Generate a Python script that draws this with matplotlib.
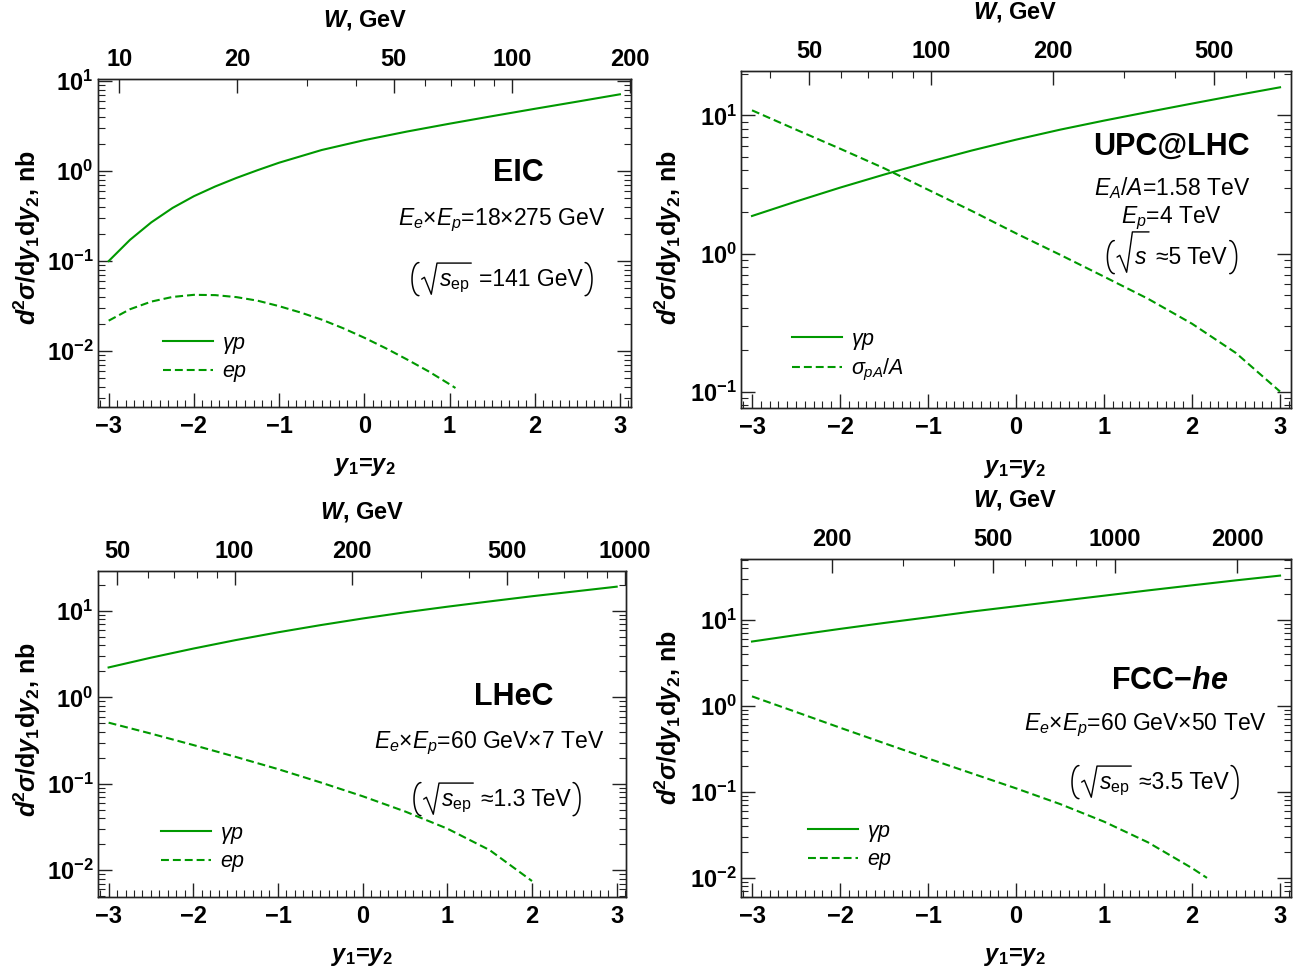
import numpy as np
import matplotlib
matplotlib.use('Agg')
import matplotlib.pyplot as plt
from matplotlib.ticker import FixedLocator, NullFormatter, MultipleLocator
from matplotlib.lines import Line2D

# ---------------- data ----------------
# EIC
eic_y_gp = [-3, -2.75, -2.5, -2.25, -2, -1.75, -1.5, -1.25, -1, -0.5, 0, 0.5, 1, 1.5, 2, 2.5, 3]
eic_gp = [0.100, 0.172, 0.269, 0.389, 0.525, 0.673, 0.838, 1.023, 1.236, 1.71, 2.2, 2.74, 3.35, 4.06, 4.9, 5.89, 7.1]
eic_y_ep = [-3, -2.75, -2.5, -2.25, -2, -1.75, -1.5, -1.25, -1, -0.75, -0.5, -0.25, 0, 0.25, 0.5, 0.75, 1, 1.07]
eic_ep = [0.0218, 0.0292, 0.0355, 0.0400, 0.0422, 0.0419, 0.0398, 0.0363, 0.0316, 0.0269, 0.0224, 0.0180,
          0.0141, 0.0108, 0.0081, 0.0060, 0.0043, 0.0039]
# UPC@LHC
upc_y = [-3, -2.5, -2, -1.5, -1, -0.5, 0, 0.5, 1, 1.5, 2, 2.5, 3]
upc_gp = [1.87, 2.38, 3.0, 3.73, 4.59, 5.58, 6.68, 7.89, 9.18, 10.6, 12.2, 14.0, 16.0]
upc_pA = [10.9, 7.9, 5.75, 4.15, 2.9, 2.03, 1.40, 0.98, 0.68, 0.47, 0.31, 0.19, 0.10]
# LHeC
lhec_y_gp = [-3, -2.5, -2, -1.5, -1, -0.5, 0, 0.5, 1, 1.5, 2, 2.5, 3]
lhec_gp = [2.22, 2.88, 3.67, 4.60, 5.66, 6.85, 8.18, 9.64, 11.2, 12.9, 14.8, 16.8, 19.1]
lhec_y_ep = [-3, -2.5, -2, -1.5, -1, -0.5, 0, 0.5, 1, 1.5, 2]
lhec_ep = [0.51, 0.381, 0.281, 0.205, 0.148, 0.104, 0.0718, 0.0479, 0.0303, 0.0171, 0.0075]
# FCC-he
fcc_y_gp = [-3, -2.5, -2, -1.5, -1, -0.5, 0, 0.5, 1, 1.5, 2, 2.5, 3]
fcc_gp = [5.6, 6.65, 7.85, 9.2, 10.7, 12.5, 14.4, 16.6, 19.1, 22.0, 25.2, 28.8, 32.7]
fcc_y_ep = [-3, -2.5, -2, -1.5, -1, -0.5, 0, 0.5, 1, 1.5, 2, 2.17]
fcc_ep = [1.29, 0.85, 0.558, 0.369, 0.245, 0.164, 0.110, 0.0723, 0.0451, 0.0259, 0.0130, 0.010]

# top W axes: W = W0 * exp(y/2)
eic_W0, upc_W0, lhec_W0, fcc_W0 = 42.1, 162.0, 213.0, 570.0
eic_Wticks = [10, 20, 50, 100, 200]
upc_Wticks = [50, 100, 200, 500]
lhec_Wticks = [50, 100, 200, 500, 1000]
fcc_Wticks = [200, 500, 1000, 2000]

x_ticks = [-3, -2, -1, 0, 1, 2, 3]

# ---------------- style ----------------
plt.rcParams.update({
    'font.family': ['Liberation Sans', 'DejaVu Sans'],
    'mathtext.fontset': 'custom',
    'mathtext.rm': 'Liberation Sans',
    'mathtext.it': 'Liberation Sans:italic',
    'mathtext.bf': 'Liberation Sans:bold',
    'mathtext.bfit': 'Liberation Sans:bold:italic',
    'mathtext.sf': 'Liberation Sans',
    'axes.linewidth': 1.0,
})
GREEN = '#009900'
FRAME = '#222222'
FW, FH = 1307, 975
TFS = 17      # tick label size
AFS = 16.5    # annotation size
LW = 1.5

fig = plt.figure(figsize=(13.07, 9.75), dpi=100)
renderer = fig.canvas.get_renderer()

def rect(l, t, r, b):
    return [l / FW, 1 - b / FH, (r - l) / FW, (b - t) / FH]

def fpos(x, y):
    return x / FW, 1 - y / FH

def pline(xs, ys, lw=1.0):
    xs = np.asarray(xs, float) / FW
    ys = 1 - np.asarray(ys, float) / FH
    fig.add_artist(Line2D(xs, ys, transform=fig.transFigure, color='black', lw=lw,
                          solid_capstyle='round', solid_joinstyle='round'))

def sqrt_note(xc, yb, inner, rest, fs, rtop=1.0):
    """(sqrt{inner} rest) drawn with tall radical and parentheses; pixel coords, y down."""
    E = fs * 100 / 72.0
    t_in = fig.text(0, 0, inner, fontsize=fs, ha='left', va='baseline')
    t_re = fig.text(0, 0, rest, fontsize=fs, ha='left', va='baseline')
    w_in = t_in.get_window_extent(renderer).width
    w_re = t_re.get_window_extent(renderer).width
    pw, gap0, rw, gap1, gap2 = 0.30 * E, 0.12 * E, 0.75 * E, 0.40 * E, 0.12 * E
    total = pw + gap0 + rw + w_in + gap1 + w_re + gap2 + pw
    x0 = xc - total / 2
    ptop, pbot = yb - 1.02 * E, yb + 0.42 * E
    pc, ph = (ptop + pbot) / 2, (pbot - ptop) / 2
    t = np.linspace(-np.pi / 2, np.pi / 2, 40)
    # left parenthesis
    pline(x0 + pw - pw * np.cos(t), pc + ph * np.sin(t), lw=1.1)
    # radical
    xr = x0 + pw + gap0
    xi = xr + rw
    top = yb - rtop * E
    pline([xr, xr + 0.12 * E, xr + 0.42 * E, xi - 0.08 * E, xi + w_in + 0.08 * E],
          [yb - 0.30 * E, yb - 0.38 * E, yb + 0.36 * E, top, top], lw=1.0)
    t_in.set_position(fpos(xi, yb))
    xrest = xi + w_in + gap1
    t_re.set_position(fpos(xrest, yb))
    xp = xrest + w_re + gap2
    # right parenthesis
    pline(xp + pw * np.cos(t), pc + ph * np.sin(t), lw=1.1)

panels = [
    dict(rect=rect(97.6, 79, 631, 407), ylim=(0.0024, 10.5), xlim=(-3.13, 3.13),
         lines=[(eic_y_gp, eic_gp, '-'), (eic_y_ep, eic_ep, '--')],
         W0=eic_W0, Wt=eic_Wticks, Wmin=[30, 40, 60, 70, 80, 90],
         labels=[r'$\gamma p$', r'$ep$'], leg=(163, 342),
         decades=[-2, -1, 0, 1],
         xl=(365, 467), wl=(365, 20), yl=(27, 238),
         texts=[(r'EIC', 518, 173, 22, 'bold'),
                (r'$E_e$×$E_p$=18×275 GeV', 502, 220, AFS, 'normal')],
         sq=(502, 286, r'$s_{\mathrm{ep}}$', '=141 GeV', 1.0)),
    dict(rect=rect(741, 71, 1290.6, 408), ylim=(0.076, 21), xlim=(-3.125, 3.12),
         lines=[(upc_y, upc_gp, '-'), (upc_y, upc_pA, '--')],
         W0=upc_W0, Wt=upc_Wticks, Wmin=[40, 60, 70, 80, 90, 300, 400, 600, 700],
         labels=[r'$\gamma p$', r'$\sigma_{pA}/A$'], leg=(792, 338),
         decades=[-1, 0, 1],
         xl=(1015, 468), wl=(1015, 12), yl=(668, 238),
         texts=[(r'UPC@LHC', 1171, 147, 22, 'bold'),
                (r'$E_A/A$=1.58 TeV', 1172, 188, AFS, 'normal'),
                (r'$E_p$=4 TeV', 1172, 218, AFS, 'normal')],
         sq=(1172, 264, r'$s$', '≈5 TeV', 1.4)),
    dict(rect=rect(97.6, 571, 626, 897), ylim=(0.0049, 29), xlim=(-3.13, 3.11),
         lines=[(lhec_y_gp, lhec_gp, '-'), (lhec_y_ep, lhec_ep, '--')],
         W0=lhec_W0, Wt=lhec_Wticks, Wmin=[60, 70, 80, 90, 300, 400, 600, 700, 800, 900],
         labels=[r'$\gamma p$', r'$ep$'], leg=(161, 832),
         decades=[-2, -1, 0, 1],
         xl=(362, 957), wl=(362, 512), yl=(27, 730),
         texts=[(r'LHeC', 514, 697, 22, 'bold'),
                (r'$E_e$×$E_p$=60 GeV×7 TeV', 489, 743, AFS, 'normal')],
         sq=(497, 806, r'$s_{\mathrm{ep}}$', '≈1.3 TeV', 1.0)),
    dict(rect=rect(741, 559, 1290.6, 897), ylim=(0.006, 51), xlim=(-3.125, 3.12),
         lines=[(fcc_y_gp, fcc_gp, '-'), (fcc_y_ep, fcc_ep, '--')],
         W0=fcc_W0, Wt=fcc_Wticks, Wmin=[300, 400, 600, 700, 800, 900],
         labels=[r'$\gamma p$', r'$ep$'], leg=(808, 830),
         decades=[-2, -1, 0, 1],
         xl=(1015, 957), wl=(1015, 500), yl=(668, 718),
         texts=[('FCC\u2212$\\mathbfit{he}$', 1170, 681, 22, 'bold'),
                (r'$E_e$×$E_p$=60 GeV×50 TeV', 1145, 725, AFS, 'normal')],
         sq=(1155, 789, r'$s_{\mathrm{ep}}$', '≈3.5 TeV', 1.0)),
]

ylab = r'$\mathbfit{d}^{\mathbf{2}}\mathbfit{\sigma}$/d$\mathbfit{y}_{\mathbf{1}}$d$\mathbfit{y}_{\mathbf{2}}$, nb'
xlab = r'$\mathbfit{y}_{\mathbf{1}}$=$\mathbfit{y}_{\mathbf{2}}$'
wlab = r'$\mathbfit{W}$, GeV'

for p in panels:
    ax = fig.add_axes(p['rect'])
    handles = []
    for (xs, ys, ls) in p['lines']:
        if ls == '--':
            h, = ax.plot(xs, ys, color=GREEN, lw=LW, ls='--', dashes=(3.8, 1.9))
        else:
            h, = ax.plot(xs, ys, color=GREEN, lw=LW, ls='-')
        handles.append(h)
    ax.set_yscale('log')
    ax.set_xlim(*p['xlim'])
    ax.set_ylim(*p['ylim'])
    for s in ax.spines.values():
        s.set_color(FRAME)
    # y ticks
    maj = [10.0 ** d for d in p['decades']]
    ax.yaxis.set_major_locator(FixedLocator(maj))
    ax.set_yticklabels([r'$\mathbf{10^{%d}}$' % d for d in p['decades']], fontsize=TFS)
    mins = [m * 10.0 ** d for d in range(-4, 3) for m in range(2, 10)]
    ax.yaxis.set_minor_locator(FixedLocator(mins))
    ax.yaxis.set_minor_formatter(NullFormatter())
    # x ticks
    ax.xaxis.set_major_locator(FixedLocator(x_ticks))
    ax.set_xticklabels(['%d' % t if t >= 0 else '\u2212%d' % (-t) for t in x_ticks],
                       fontsize=TFS, fontweight='bold')
    ax.xaxis.set_minor_locator(MultipleLocator(0.1))
    ax.tick_params(which='both', direction='in', top=False, right=True, color=FRAME)
    ax.tick_params(which='major', length=10, width=1.0)
    ax.tick_params(which='minor', length=5, width=0.8)
    ax.tick_params(axis='x', which='major', pad=6)
    ax.tick_params(axis='y', which='major', pad=3)
    # top W axis
    ax2 = ax.twiny()
    ax2.set_xlim(*p['xlim'])
    for s in ax2.spines.values():
        s.set_color(FRAME)
    W0 = p['W0']
    ax2.xaxis.set_major_locator(FixedLocator([2 * np.log(w / W0) for w in p['Wt']]))
    ax2.set_xticklabels(['%d' % w for w in p['Wt']], fontsize=TFS, fontweight='bold')
    ax2.xaxis.set_minor_locator(FixedLocator([2 * np.log(w / W0) for w in p['Wmin']]))
    ax2.tick_params(which='both', direction='in', color=FRAME)
    ax2.tick_params(which='major', length=10, width=1.0, pad=6)
    ax2.tick_params(which='minor', length=5, width=0.8)
    # labels
    fig.text(*fpos(*p['xl']), xlab, fontsize=17, fontweight='bold', ha='center', va='center')
    fig.text(*fpos(*p['wl']), wlab, fontsize=17, fontweight='bold', ha='center', va='center')
    fig.text(*fpos(*p['yl']), ylab, fontsize=18, fontweight='bold', ha='center', va='center',
             rotation=90)
    for t, x, y, fs, fw in p['texts']:
        fig.text(*fpos(x, y), t, fontsize=fs, fontweight=fw, ha='center', va='center')
    xc, yb, inner, rest, rtop = p['sq']
    sqrt_note(xc, yb, inner, rest, AFS, rtop)
    # legend
    lx, ly = p['leg']
    ax.legend(handles, p['labels'], loc='upper left',
              bbox_to_anchor=fpos(lx, ly - 9), bbox_transform=fig.transFigure,
              frameon=False, fontsize=15.5, handlelength=2.3, handletextpad=0.45,
              labelspacing=0.25, borderpad=0, borderaxespad=0)

fig.savefig('out.png', dpi=100)
